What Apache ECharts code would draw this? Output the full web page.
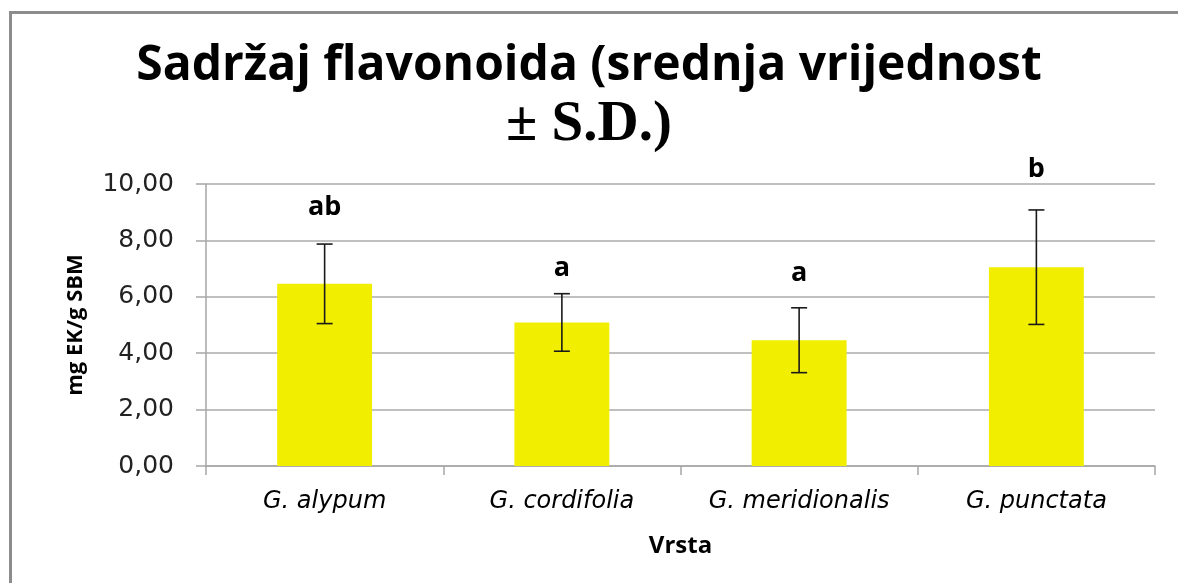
<!DOCTYPE html>
<html>
<head>
<meta charset="utf-8">
<script src="https://cdn.jsdelivr.net/npm/echarts@6/dist/echarts.min.js"></script>
<style>
html,body{margin:0;padding:0;background:#fff;}
#chart{width:1178px;height:583px;}
</style>
</head>
<body>
<div id="chart"></div>
<script>
const categories = ['G. alypum', 'G. cordifolia', 'G. meridionalis', 'G. punctata'];
const means = [6.46, 5.09, 4.46, 7.05];
const sds = [1.41, 1.02, 1.15, 2.03];
const letters = ['ab', 'a', 'a', 'b'];
const letterY = [9.16, 7.0, 6.82, 10.51];
const yTickLabels = ['0,00', '2,00', '4,00', '6,00', '8,00', '10,00'];

const chart = echarts.init(document.getElementById('chart'));

const errData = categories.map((c, i) => [i, means[i] - sds[i], means[i] + sds[i]]);
const letterData = categories.map((c, i) => [i, letterY[i], letters[i]]);

chart.setOption({
  animation: false,
  backgroundColor: '#ffffff',
  title: {
    left: 'center',
    top: 30,
    text: '{a|Sadržaj flavonoida (srednja vrijednost}\n{b|± S.D.)}',
    textStyle: {
      rich: {
        a: { fontFamily: 'Open Sans', fontWeight: 'bold', fontSize: 48, lineHeight: 62, color: '#000' },
        b: { fontFamily: 'Liberation Serif', fontWeight: 'bold', fontSize: 57, lineHeight: 56, color: '#000' }
      }
    }
  },
  graphic: [{
    type: 'rect',
    shape: { x: 10.5, y: 12.5, width: 1300, height: 700 },
    style: { fill: 'none', stroke: '#8c8c8c', lineWidth: 3 },
    silent: true
  }],
  grid: { left: 206, right: 23, top: 184, bottom: 117, containLabel: false },
  xAxis: {
    type: 'category',
    data: categories,
    name: 'Vrsta',
    nameLocation: 'middle',
    nameGap: 68,
    nameTextStyle: { fontFamily: 'Open Sans', fontWeight: 'bold', fontSize: 24, color: '#000' },
    axisLine: { lineStyle: { color: '#a6a6a6', width: 1.5 } },
    axisTick: { show: true, length: 9, interval: 0, alignWithLabel: false, lineStyle: { color: '#a6a6a6', width: 1.5 } },
    axisLabel: { interval: 0, fontFamily: 'DejaVu Sans', fontStyle: 'italic', fontSize: 24, color: '#000', margin: 24 }
  },
  yAxis: {
    type: 'value',
    min: 0,
    max: 10,
    interval: 2,
    name: 'mg EK/g SBM',
    nameLocation: 'middle',
    nameGap: 119,
    nameTextStyle: { fontFamily: 'Open Sans', fontWeight: 'bold', fontSize: 22, color: '#000' },
    axisLine: { show: true, lineStyle: { color: '#a6a6a6', width: 1.5 } },
    axisTick: { show: true, length: 10, inside: false, lineStyle: { color: '#a6a6a6', width: 1.5 } },
    axisLabel: {
      fontFamily: 'DejaVu Sans', fontSize: 25, color: '#222', margin: 32,
      formatter: (v) => yTickLabels[Math.round(v / 2)]
    },
    splitLine: { show: true, lineStyle: { color: '#ababab', width: 1.5 } }
  },
  series: [
    {
      type: 'bar',
      data: means,
      barWidth: '40%',
      itemStyle: { color: '#F2EE00' }
    },
    {
      type: 'custom',
      data: errData,
      z: 5,
      renderItem: function (params, api) {
        const x = api.value(0);
        const lo = api.coord([x, api.value(1)]);
        const hi = api.coord([x, api.value(2)]);
        const hw = 8;
        const st = { stroke: '#1a1a1a', lineWidth: 1.6 };
        return {
          type: 'group',
          children: [
            { type: 'line', shape: { x1: lo[0], y1: lo[1], x2: hi[0], y2: hi[1] }, style: st },
            { type: 'line', shape: { x1: lo[0] - hw, y1: lo[1], x2: lo[0] + hw, y2: lo[1] }, style: st },
            { type: 'line', shape: { x1: hi[0] - hw, y1: hi[1], x2: hi[0] + hw, y2: hi[1] }, style: st }
          ]
        };
      }
    },
    {
      type: 'custom',
      data: letterData,
      z: 6,
      clip: false,
      renderItem: function (params, api) {
        const p = api.coord([api.value(0), api.value(1)]);
        return {
          type: 'text',
          x: p[0],
          y: p[1],
          style: {
            text: letters[params.dataIndex],
            fontFamily: 'Open Sans',
            fontWeight: 'bold',
            fontSize: 27,
            fill: '#000',
            align: 'center',
            verticalAlign: 'middle'
          }
        };
      }
    }
  ]
});
</script>
</body>
</html>
